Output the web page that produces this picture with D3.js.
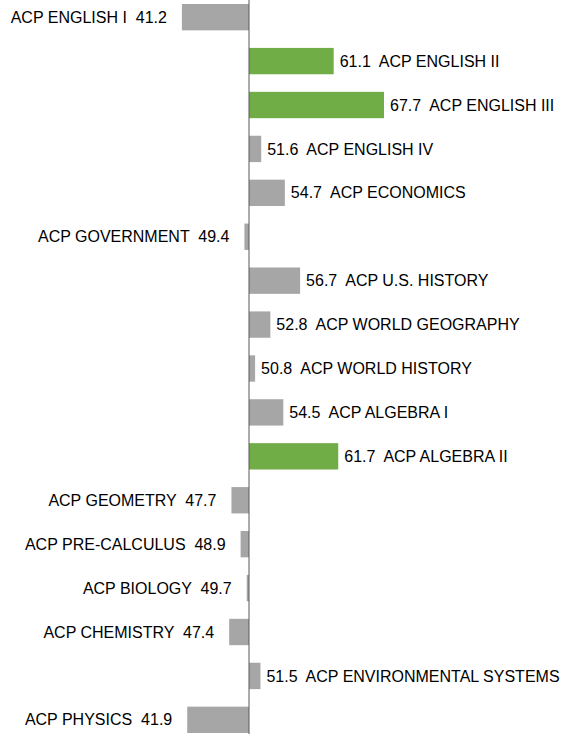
<!DOCTYPE html>
<html>
<head>
<meta charset="utf-8">
<script src="https://cdn.jsdelivr.net/npm/d3@7"></script>
<style>
  body { margin: 0; background: #fff; }
  text { font-family: "Liberation Sans", Arial, sans-serif; font-size: 16px; fill: #000; white-space: pre; }
</style>
</head>
<body>
<svg id="chart"></svg>
<script>
const courses = [
  "ACP ENGLISH I", "ACP ENGLISH II", "ACP ENGLISH III", "ACP ENGLISH IV",
  "ACP ECONOMICS", "ACP GOVERNMENT", "ACP U.S. HISTORY", "ACP WORLD GEOGRAPHY",
  "ACP WORLD HISTORY", "ACP ALGEBRA I", "ACP ALGEBRA II", "ACP GEOMETRY",
  "ACP PRE-CALCULUS", "ACP BIOLOGY", "ACP CHEMISTRY", "ACP ENVIRONMENTAL SYSTEMS",
  "ACP PHYSICS"
];
const scores = [41.2, 61.1, 67.7, 51.6, 54.7, 49.4, 56.7, 52.8, 50.8, 54.5, 61.7, 47.7, 48.9, 49.7, 47.4, 51.5, 41.9];
const highlighted = ["ACP ENGLISH II", "ACP ENGLISH III", "ACP ALGEBRA II"];
const baseline = 50;

const width = 564, height = 734;

const svg = d3.select("#chart").attr("width", width).attr("height", height);

let x = d3.scaleLinear().domain([baseline, 67.7]).range([249, 384]);

let y = d3.scaleBand()
  .domain(courses)
  .range([4, 733])
  .paddingInner(0.4)
  .paddingOuter(0);

const data = courses.map((c, i) => ({ name: c, value: scores[i] }));

// bars
svg.selectAll("rect")
  .data(data)
  .enter()
  .append("rect")
  .attr("x", d => x(Math.min(d.value, baseline)))
  .attr("y", d => y(d.name))
  .attr("width", d => Math.abs(x(d.value) - x(baseline)))
  .attr("height", y.bandwidth())
  .attr("fill", d => highlighted.includes(d.name) ? "#70AD47" : "#A6A6A6");

// labels
svg.selectAll("text.lbl")
  .data(data)
  .enter()
  .append("text")
  .attr("class", "lbl")
  .attr("x", d => d.value < baseline ? x(d.value) - 15 : x(d.value) + 6)
  .attr("y", d => y(d.name) + y.bandwidth() / 2)
  .attr("dy", "0.35em")
  .attr("text-anchor", d => d.value < baseline ? "end" : "start")
  .text(d => d.value < baseline
    ? d.name + "  " + d.value.toFixed(1)
    : d.value.toFixed(1) + "  " + d.name);

// baseline axis
svg.append("line")
  .attr("x1", x(baseline)).attr("x2", x(baseline))
  .attr("y1", 0).attr("y2", height)
  .attr("stroke", "#595959")
  .attr("stroke-width", 1);
</script>
</body>
</html>
